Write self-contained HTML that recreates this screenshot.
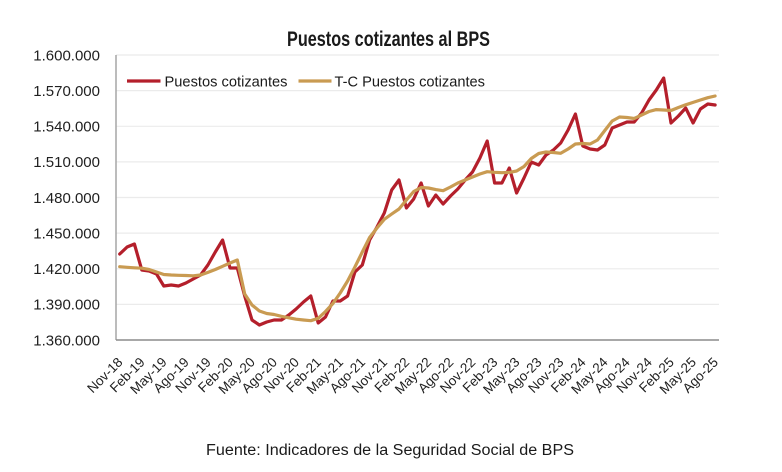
<!DOCTYPE html>
<html>
<head>
<meta charset="utf-8">
<style>
  html,body{margin:0;padding:0;background:#fff;}
  svg{display:block;}
  text{font-family:"Liberation Sans",sans-serif;}
</style>
</head>
<body>
<svg width="782" height="472" viewBox="0 0 782 472" xmlns="http://www.w3.org/2000/svg">
  <rect width="782" height="472" fill="#fff"/>
  <!-- Title -->
  <text x="287" y="46" font-size="21" font-weight="bold" fill="#1a1a1a" textLength="203" lengthAdjust="spacingAndGlyphs">Puestos cotizantes al BPS</text>

  <!-- Gridlines -->
  <g stroke="#ebebeb" stroke-width="1.2">
    <line x1="116" y1="55" x2="719" y2="55"/>
    <line x1="116" y1="90.6" x2="719" y2="90.6"/>
    <line x1="116" y1="126.3" x2="719" y2="126.3"/>
    <line x1="116" y1="161.9" x2="719" y2="161.9"/>
    <line x1="116" y1="197.5" x2="719" y2="197.5"/>
    <line x1="116" y1="233.1" x2="719" y2="233.1"/>
    <line x1="116" y1="268.8" x2="719" y2="268.8"/>
    <line x1="116" y1="304.4" x2="719" y2="304.4"/>
  </g>
  <!-- Axes -->
  <line x1="116" y1="55" x2="116" y2="340" stroke="#a6a6a6" stroke-width="1.5"/>
  <line x1="116" y1="340" x2="719" y2="340" stroke="#8c8c8c" stroke-width="1.5"/>

  <!-- Y labels -->
  <g font-size="15" fill="#1f1f1f" text-anchor="end">
    <text x="100" y="60.3">1.600.000</text>
    <text x="100" y="95.9">1.570.000</text>
    <text x="100" y="131.6">1.540.000</text>
    <text x="100" y="167.2">1.510.000</text>
    <text x="100" y="202.8">1.480.000</text>
    <text x="100" y="238.4">1.450.000</text>
    <text x="100" y="274.1">1.420.000</text>
    <text x="100" y="309.7">1.390.000</text>
    <text x="100" y="345.3">1.360.000</text>
  </g>

  <!-- X labels -->
  <g font-size="13.5" fill="#1f1f1f" text-anchor="end">
    <text transform="translate(123.5,363) rotate(-45)">Nov-18</text>
    <text transform="translate(145.6,363) rotate(-45)">Feb-19</text>
    <text transform="translate(167.6,363) rotate(-45)">May-19</text>
    <text transform="translate(189.7,363) rotate(-45)">Ago-19</text>
    <text transform="translate(211.7,363) rotate(-45)">Nov-19</text>
    <text transform="translate(233.8,363) rotate(-45)">Feb-20</text>
    <text transform="translate(255.8,363) rotate(-45)">May-20</text>
    <text transform="translate(277.9,363) rotate(-45)">Ago-20</text>
    <text transform="translate(299.9,363) rotate(-45)">Nov-20</text>
    <text transform="translate(322.0,363) rotate(-45)">Feb-21</text>
    <text transform="translate(344.0,363) rotate(-45)">May-21</text>
    <text transform="translate(366.1,363) rotate(-45)">Ago-21</text>
    <text transform="translate(388.1,363) rotate(-45)">Nov-21</text>
    <text transform="translate(410.2,363) rotate(-45)">Feb-22</text>
    <text transform="translate(432.2,363) rotate(-45)">May-22</text>
    <text transform="translate(454.3,363) rotate(-45)">Ago-22</text>
    <text transform="translate(476.3,363) rotate(-45)">Nov-22</text>
    <text transform="translate(498.4,363) rotate(-45)">Feb-23</text>
    <text transform="translate(520.4,363) rotate(-45)">May-23</text>
    <text transform="translate(542.5,363) rotate(-45)">Ago-23</text>
    <text transform="translate(564.5,363) rotate(-45)">Nov-23</text>
    <text transform="translate(586.6,363) rotate(-45)">Feb-24</text>
    <text transform="translate(608.6,363) rotate(-45)">May-24</text>
    <text transform="translate(630.7,363) rotate(-45)">Ago-24</text>
    <text transform="translate(652.8,363) rotate(-45)">Nov-24</text>
    <text transform="translate(674.8,363) rotate(-45)">Feb-25</text>
    <text transform="translate(696.9,363) rotate(-45)">May-25</text>
    <text transform="translate(718.9,363) rotate(-45)">Ago-25</text>
  </g>

  <!-- Red series -->
  <polyline fill="none" stroke="#b41f2b" stroke-width="3.2" stroke-linejoin="round" stroke-linecap="round" points="
    119.7,254 127.1,247 134.4,244 141.8,270 149.1,271 156.5,274 163.8,286 171.2,285 178.5,286 185.9,283
    193.2,279 200.6,275 207.9,265 215.3,252 222.6,240 230.0,268 237.3,268 244.7,296 252.0,320 259.4,325
    266.7,322 274.1,320 281.4,320 288.8,315 296.1,309 303.5,302 310.8,296 318.2,323 325.5,317 332.9,301
    340.2,301 347.6,296 354.9,272 362.3,265 369.6,240 377.0,227 384.3,213 391.7,190 399.0,180 406.4,208
    413.7,199 421.1,183 428.4,206 435.8,195 443.1,204 450.5,196 457.8,189 465.2,180 472.5,172 479.9,158
    487.2,141 494.6,183 501.9,183 509.3,168 516.6,193 524.0,178 531.3,162 538.7,165 546.0,155 553.4,150
    560.7,143 568.1,130 575.4,114 582.8,146 590.1,149 597.5,150 604.8,145 612.2,128 619.5,125 626.9,122
    634.2,122 641.6,113 649.0,100 656.3,90 663.7,78 671.0,123 678.4,116 685.7,108 693.1,123 700.4,109
    707.8,104 715.1,105"/>

  <!-- Tan series -->
  <polyline fill="none" stroke="#c99b52" stroke-width="3.2" stroke-linejoin="round" stroke-linecap="round" points="
    119.7,266.7 127.1,267.3 134.4,267.8 141.8,268.2 149.1,269.5 156.5,272 163.8,274.5 171.2,275 178.5,275.3 185.9,275.5
    193.2,275.8 200.6,275 207.9,272.4 215.3,269.5 222.6,266.3 230.0,263 237.3,260 244.7,294 252.0,305 259.4,311
    266.7,313.5 274.1,314.5 281.4,316.3 288.8,317.8 296.1,319.2 303.5,320 310.8,320.7 318.2,318.3 325.5,311.5 332.9,303.5
    340.2,293 347.6,281 354.9,267 362.3,252 369.6,237.5 377.0,228 384.3,219.3 391.7,214 399.0,209 406.4,200
    413.7,191.5 421.1,187.5 428.4,188 435.8,189.6 443.1,190.7 450.5,187 457.8,183 465.2,180 472.5,177 479.9,174
    487.2,171.7 494.6,172.3 501.9,172.7 509.3,172.4 516.6,171 524.0,166.5 531.3,158.5 538.7,153.5 546.0,152 553.4,152.5
    560.7,153.3 568.1,149 575.4,144 582.8,143.5 590.1,144 597.5,140 604.8,130.5 612.2,121 619.5,117 626.9,117.5
    634.2,118.5 641.6,115 649.0,111.5 656.3,109.6 663.7,110 671.0,110.5 678.4,107.5 685.7,104.8 693.1,102.4 700.4,100
    707.8,97.7 715.1,96"/>

  <!-- Legend -->
  <line x1="127" y1="81" x2="160.5" y2="81" stroke="#b41f2b" stroke-width="3.2"/>
  <text x="164.5" y="86.5" font-size="15" fill="#1a1a1a" textLength="123" lengthAdjust="spacingAndGlyphs">Puestos cotizantes</text>
  <line x1="298.5" y1="81" x2="331.5" y2="81" stroke="#c99b52" stroke-width="3.2"/>
  <text x="334.5" y="86.5" font-size="15" fill="#1a1a1a" textLength="150.5" lengthAdjust="spacingAndGlyphs">T-C Puestos cotizantes</text>

  <!-- Footer -->
  <text x="206" y="455" font-size="15.5" fill="#1a1a1a" textLength="368" lengthAdjust="spacingAndGlyphs">Fuente: Indicadores de la Seguridad Social de BPS</text>
</svg>
</body>
</html>
